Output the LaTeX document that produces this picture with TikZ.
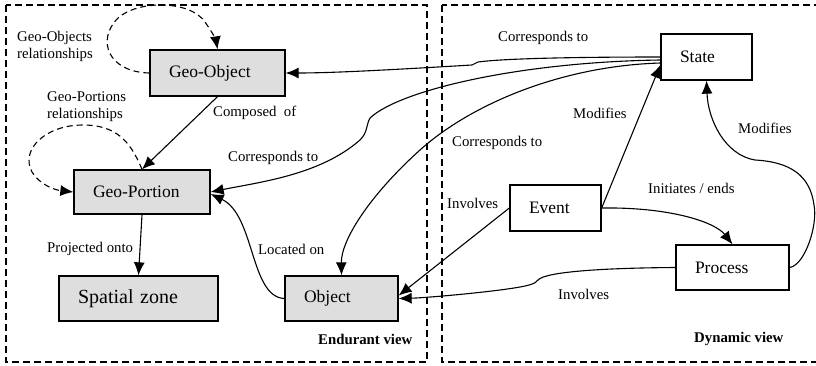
\documentclass[tikz,border=0pt]{standalone}
\usepackage{fontspec}
\setmainfont{Liberation Serif}
\usetikzlibrary{arrows.meta}
\begin{document}
\begin{tikzpicture}[x=1pt,y=-1pt,
  box/.style={draw, line width=1.3pt, inner xsep=19pt, inner ysep=0pt, align=left,
    font=\fontsize{17.5}{20}\selectfont, anchor=center},
  gbox/.style={box, fill=black!13},
  wbox/.style={box, fill=white},
  lab/.style={font=\fontsize{14.8}{17}\selectfont, inner sep=0pt, anchor=west, align=left},
  vlab/.style={inner sep=0pt, anchor=west, font=\bfseries\fontsize{14.8}{17}\selectfont},
  conn/.style={line width=1.1pt, -{Latex[length=13pt,width=11pt]}},
  dloop/.style={conn, dash pattern=on 6pt off 4pt},
  frame/.style={line width=1.3pt, dash pattern=on 7pt off 4pt}]
\useasboundingbox (0,0) rectangle (816,365);
\clip (0,0) rectangle (816,365);
% frames
\draw[frame] (6,5) rectangle (427,362);
\draw[frame] (442,5) rectangle (830,362);
% boxes
\node[gbox, text width=97pt, minimum height=46pt] (go) at (217.5,73) {Geo-Object};
\node[gbox, text width=98pt, minimum height=44pt] (gp) at (142,192) {Geo-Portion};
\node[gbox, text width=121pt, minimum height=45pt, font=\fontsize{20}{22}\selectfont] (sz) at (138.5,298.5) {Spatial zone};
\node[gbox, text width=75pt, minimum height=45pt] (ob) at (341.5,298.5) {Object};
\node[wbox, text width=53pt, minimum height=46pt] (st) at (706.5,57) {State};
\node[wbox, text width=53pt, minimum height=46pt] (ev) at (555.5,208) {Event};
\node[wbox, text width=75pt, minimum height=45pt] (pr) at (732.5,267.5) {Process};
% labels
\node[lab] (l1) at (17,46.5) {Geo-Objects\\relationships};
\node[lab] (l2) at (47,107) {Geo-Portions\\relationships};
\node[lab] (l3) at (213,113) {Composed\ \ of};
\node[lab] (l4) at (228,158) {Corresponds to};
\node[lab] (l5) at (47,249) {Projected onto};
\node[lab] (l6) at (258,249) {Located on};
\node[vlab] (l7) at (318,339) {Endurant view};
\node[lab] (l8) at (498,38) {Corresponds to};
\node[lab] (l9) at (573,113) {Modifies};
\node[lab] (l10) at (452,143) {Corresponds to};
\node[lab] (l11) at (738,128) {Modifies};
\node[lab] (l12) at (447,203) {Involves};
\node[lab] (l13) at (648,188) {Initiates / ends};
\node[lab] (l14) at (558,294) {Involves};
\node[vlab] (l15) at (694,339) {Dynamic view};
% self loops
\draw[dloop] (go.west) .. controls (108,72) and (96,40) .. (118,18)
  .. controls (138,0) and (190,0) .. (205,22) .. controls (212,32) and (216,40) .. (go.north);
\draw[dloop] (gp.north) .. controls (130,140) and (115,125) .. (83,125)
  .. controls (45,125) and (20,150) .. (32,172) .. controls (40,185) and (55,190) .. (gp.west);
% left view connectors
\draw[conn] (go.south) -- (gp.north);
\draw[conn] (gp.south) -- (sz.north);
\draw[conn] (ob.west) .. controls (250,297) and (255,215) .. ([yshift=-2pt]gp.east);
% correspondences from State
\draw[conn] (st.west) .. controls (560,57) and (500,59) .. (478,62) -- (472,65)
  .. controls (420,68) and (340,73) .. (go.east);
\draw[conn] ([yshift=-3pt]st.west) .. controls (520,62) and (400,90) .. (370,118)
  .. controls (366,125) and (368,132) .. (360,140) .. controls (320,175) and (260,182) .. (gp.east);
\draw[conn] ([yshift=-6pt]st.west) .. controls (560,66) and (470,105) .. (420,150)
  .. controls (370,195) and (341,240) .. (ob.north);
% dynamic view
\draw[conn] (ev.east) -- ([yshift=-8pt]st.west);
\draw[conn] (ev.east) .. controls (670,207) and (715,222) .. (pr.north);
\draw[conn] (ev.west) -- ([yshift=3pt]ob.east);
\draw[conn] (pr.west) .. controls (600,268) and (545,272) .. (538,280)
  .. controls (535,284) and (530,286) .. (500,290) .. controls (460,295) and (420,298) .. (ob.east);
\draw[conn] (pr.east) .. controls (805,265) and (818,225) .. (814,205)
  .. controls (810,175) and (790,162) .. (755,160) .. controls (725,155) and (708,120) .. (st.south);
\end{tikzpicture}
\end{document}
